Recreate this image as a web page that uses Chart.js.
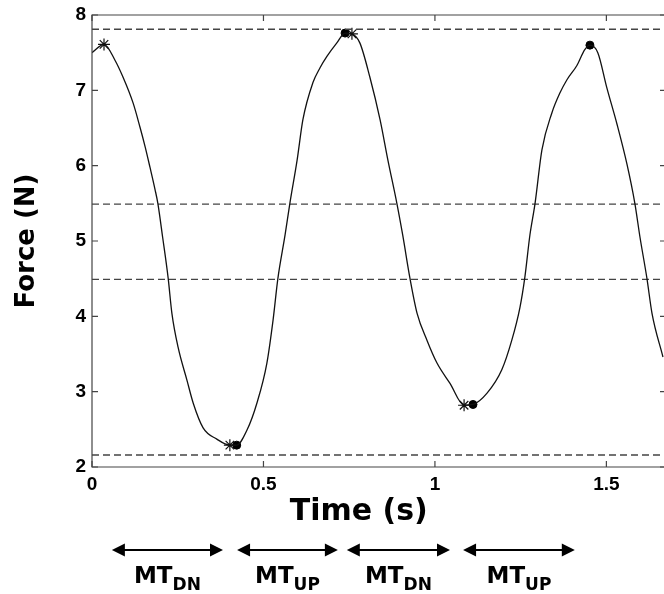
<!DOCTYPE html>
<html>
<head>
<meta charset="utf-8">
<script src="https://cdn.jsdelivr.net/npm/chart.js@4.4.0/dist/chart.umd.min.js"></script>
<style>
  html, body { margin: 0; padding: 0; background: #fff; }
</style>
</head>
<body>
<canvas id="chart" width="664" height="594"></canvas>
<script>
// force trace
let timeValues = [0.000, 0.035, 0.067, 0.090, 0.120, 0.140, 0.155, 0.169, 0.184, 0.192,
  0.206, 0.222, 0.233, 0.251, 0.277, 0.295, 0.324, 0.364, 0.402, 0.422,
  0.452, 0.481, 0.510, 0.528, 0.542, 0.563, 0.577, 0.598, 0.615, 0.644,
  0.665, 0.685, 0.714, 0.738, 0.758, 0.781, 0.810, 0.840, 0.863, 0.889,
  0.906, 0.927, 0.948, 0.977, 1.006, 1.044, 1.085, 1.111, 1.152, 1.195,
  1.224, 1.248, 1.262, 1.277, 1.292, 1.312, 1.341, 1.364, 1.385, 1.414,
  1.437, 1.452, 1.475, 1.501, 1.531, 1.560, 1.583, 1.598, 1.618, 1.633, 1.665]
let forceValues = [7.50, 7.61, 7.40, 7.18, 6.83, 6.51, 6.25, 5.98, 5.68, 5.50,
  5.05, 4.51, 4.04, 3.59, 3.15, 2.85, 2.52, 2.37, 2.29, 2.29,
  2.49, 2.85, 3.38, 3.95, 4.50, 5.08, 5.50, 6.07, 6.61, 7.10,
  7.30, 7.45, 7.63, 7.76, 7.75, 7.63, 7.18, 6.61, 6.07, 5.50,
  5.08, 4.51, 4.04, 3.68, 3.38, 3.11, 2.82, 2.83, 2.98, 3.29,
  3.68, 4.12, 4.51, 5.08, 5.50, 6.21, 6.70, 6.96, 7.14, 7.33,
  7.54, 7.60, 7.50, 7.04, 6.55, 6.02, 5.50, 5.05, 4.51, 4.04, 3.46]

// asterisk and dot markers
let starTimes = [0.035, 0.402, 0.758, 1.085]
let starForces = [7.61, 2.29, 7.75, 2.82]
let dotTimes = [0.422, 0.738, 1.111, 1.452]
let dotForces = [2.29, 7.76, 2.83, 7.60]

// dashed threshold levels
let thresholds = [7.81, 5.49, 4.49, 2.16]

// movement time arrows under the axis
let arrowStarts = [0.058, 0.423, 0.743, 1.082]
let arrowEnds = [0.382, 0.717, 1.044, 1.408]
let arrowSubs = ['DN', 'UP', 'DN', 'UP']

let xTicks = [0, 0.5, 1, 1.5]
let yTicks = [2, 3, 4, 5, 6, 7, 8]
let xMax = 1.668
let xTitle = 'Time (s)'
let xTitleAt = 0.778

const tickFont = { family: 'Liberation Sans', size: 19, weight: 'bold' }
const titleFamily = 'DejaVu Sans'

let datasets = []
datasets.push({
  data: timeValues.map((t, i) => ({ x: t, y: forceValues[i] })),
  showLine: true, borderColor: '#111', borderWidth: 1.3,
  pointRadius: 0, cubicInterpolationMode: 'monotone'
})
thresholds.forEach(level => {
  datasets.push({
    data: [{ x: 0, y: level }, { x: xMax, y: level }],
    showLine: true, borderColor: '#444', borderWidth: 1.4,
    borderDash: [7, 4], pointRadius: 0
  })
})
datasets.push({
  data: starTimes.map((t, i) => ({ x: t, y: starForces[i] })),
  pointStyle: 'star', pointRadius: 6, borderColor: '#111', borderWidth: 1.2,
  backgroundColor: '#111'
})
datasets.push({
  data: dotTimes.map((t, i) => ({ x: t, y: dotForces[i] })),
  pointStyle: 'circle', pointRadius: 4, borderColor: '#000', backgroundColor: '#000'
})

const framePlugin = {
  id: 'frame',
  afterDatasetsDraw(chart) {
    const { ctx, chartArea: a, scales } = chart
    ctx.save()
    ctx.strokeStyle = '#444'
    ctx.lineWidth = 1.2
    // box (right side falls off the picture)
    ctx.beginPath()
    ctx.moveTo(a.right + 2, a.top); ctx.lineTo(a.left, a.top)
    ctx.lineTo(a.left, a.bottom); ctx.lineTo(a.right + 2, a.bottom)
    ctx.stroke()
    ctx.beginPath()
    xTicks.forEach(v => {
      let px = scales.x.getPixelForValue(v)
      ctx.moveTo(px, a.bottom); ctx.lineTo(px, a.bottom - 6)
      ctx.moveTo(px, a.top); ctx.lineTo(px, a.top + 6)
    })
    yTicks.forEach(v => {
      let py = scales.y.getPixelForValue(v)
      ctx.moveTo(a.left, py); ctx.lineTo(a.left + 6, py)
      ctx.moveTo(a.right + 2, py); ctx.lineTo(a.right - 4, py)
    })
    ctx.stroke()
    ctx.restore()
  },
  afterDraw(chart) {
    const { ctx, chartArea: a, scales } = chart
    const yArrow = a.bottom + 83
    const yText = a.bottom + 116
    ctx.save()
    ctx.fillStyle = '#000'
    ctx.strokeStyle = '#000'

    // x axis title
    ctx.font = 'bold 30px "' + titleFamily + '"'
    ctx.textAlign = 'center'
    ctx.textBaseline = 'middle'
    ctx.fillText(xTitle, scales.x.getPixelForValue(xTitleAt), a.bottom + 45)

    ctx.lineWidth = 2
    arrowStarts.forEach((start, i) => {
      let x1 = scales.x.getPixelForValue(start)
      let x2 = scales.x.getPixelForValue(arrowEnds[i])
      ctx.beginPath()
      ctx.moveTo(x1 + 8, yArrow); ctx.lineTo(x2 - 8, yArrow)
      ctx.stroke()
      ctx.beginPath()
      ctx.moveTo(x1, yArrow); ctx.lineTo(x1 + 13, yArrow - 6.5); ctx.lineTo(x1 + 13, yArrow + 6.5)
      ctx.closePath(); ctx.fill()
      ctx.beginPath()
      ctx.moveTo(x2, yArrow); ctx.lineTo(x2 - 13, yArrow - 6.5); ctx.lineTo(x2 - 13, yArrow + 6.5)
      ctx.closePath(); ctx.fill()

      // MT label with subscript
      ctx.textBaseline = 'alphabetic'
      ctx.textAlign = 'left'
      ctx.font = 'bold 23px "' + titleFamily + '"'
      let wMain = ctx.measureText('MT').width
      ctx.font = 'bold 17px "' + titleFamily + '"'
      let wSub = ctx.measureText(arrowSubs[i]).width
      let left = (x1 + x2) / 2 - (wMain + wSub) / 2
      ctx.font = 'bold 23px "' + titleFamily + '"'
      ctx.fillText('MT', left, yText)
      ctx.font = 'bold 17px "' + titleFamily + '"'
      ctx.fillText(arrowSubs[i], left + wMain, yText + 7)
    })
    ctx.restore()
  }
}

new Chart(document.getElementById('chart'), {
  type: 'scatter',
  data: { datasets },
  options: {
    responsive: false,
    animation: false,
    layout: { autoPadding: false, padding: { top: 15, right: 0, bottom: 63, left: 0 } },
    plugins: { legend: { display: false }, tooltip: { enabled: false } },
    scales: {
      x: {
        type: 'linear', min: 0, max: xMax,
        afterBuildTicks: axis => { axis.ticks = xTicks.map(v => ({ value: v })) },
        afterFit: axis => { axis.height = 64; axis.paddingLeft = 0; axis.paddingRight = 0 },
        grid: { display: false, drawTicks: false },
        border: { display: false },
        ticks: { font: tickFont, color: '#000', padding: 6, maxRotation: 0, autoSkip: false,
          callback: v => String(v) }
      },
      y: {
        type: 'linear', min: 2, max: 8,
        afterBuildTicks: axis => { axis.ticks = yTicks.map(v => ({ value: v })) },
        afterFit: axis => { axis.width = 92; axis.paddingTop = 0; axis.paddingBottom = 0 },
        grid: { display: false, drawTicks: false },
        border: { display: false },
        ticks: { font: tickFont, color: '#000', padding: 6, callback: v => String(v) },
        title: { display: true, text: 'Force (N)', color: '#000',
          font: { family: titleFamily, size: 26, weight: 'bold' }, padding: { top: 12, bottom: 0 } }
      }
    }
  },
  plugins: [framePlugin]
})
</script>
</body>
</html>
